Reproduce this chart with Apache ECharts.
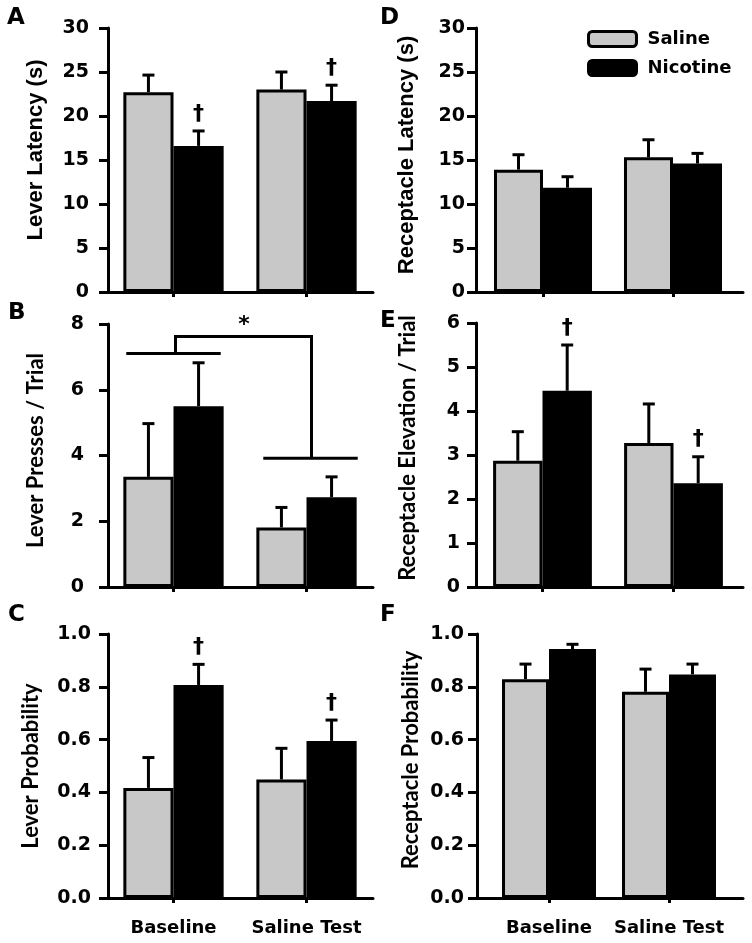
<!DOCTYPE html>
<html>
<head>
<meta charset="utf-8">
<script src="https://cdn.jsdelivr.net/npm/echarts@6/dist/echarts.min.js"></script>
<style>
  html, body { margin: 0; padding: 0; background: #fff; }
  #chart { width: 752px; height: 943px; }
</style>
</head>
<body>
<div id="chart"></div>
<script>
var categories = ['Baseline', 'Saline Test'];
var groupNames = ['Saline', 'Nicotine'];

// A - lever latency (s)
var leverLatencySaline = [22.7, 23.0];
var leverLatencySalineErr = [1.95, 2.0];
var leverLatencyNicotine = [16.6, 21.7];
var leverLatencyNicotineErr = [1.7, 1.8];
var leverLatencyDaggers = [true, true];

// B - lever presses / trial
var leverPressSaline = [3.35, 1.81];
var leverPressSalineErr = [1.62, 0.61];
var leverPressNicotine = [5.5, 2.73];
var leverPressNicotineErr = [1.32, 0.62];
var leverPressDaggers = [false, false];
var leverPressSigLevels = [7.1, 3.92];   // horizontal lines over each condition
var leverPressSigTop = 7.62;             // top of connecting bracket
var leverPressStarLevel = 7.96;

// C - lever probability
var leverProbSaline = [0.417, 0.449];
var leverProbSalineErr = [0.115, 0.118];
var leverProbNicotine = [0.807, 0.595];
var leverProbNicotineErr = [0.078, 0.079];
var leverProbDaggers = [true, true];

// D - receptacle latency (s)
var recLatencySaline = [13.9, 15.3];
var recLatencySalineErr = [1.7, 2.0];
var recLatencyNicotine = [11.85, 14.6];
var recLatencyNicotineErr = [1.25, 1.15];
var recLatencyDaggers = [false, false];

// E - receptacle elevation / trial
var recElevSaline = [2.87, 3.27];
var recElevSalineErr = [0.66, 0.89];
var recElevNicotine = [4.46, 2.36];
var recElevNicotineErr = [1.04, 0.6];
var recElevDaggers = [true, true];

// F - receptacle probability
var recProbSaline = [0.829, 0.781];
var recProbSalineErr = [0.057, 0.086];
var recProbNicotine = [0.943, 0.847];
var recProbNicotineErr = [0.018, 0.039];
var recProbDaggers = [false, false];

var NUM_FONT = 'DejaVu Sans';
var GREY = '#c8c8c8';

var panels = [
  { letter: 'A', title: 'Lever Latency (s)', titleFont: 'Liberation Sans', titleSize: 22, max: 30, interval: 5, dec: 0,
    saline: leverLatencySaline, salineErr: leverLatencySalineErr, nicotine: leverLatencyNicotine, nicotineErr: leverLatencyNicotineErr,
    daggers: leverLatencyDaggers, frame: { left: 108, top: 28, width: 265, height: 264 }, barLeft: 107, barWidth: 266,
    gap: '24.6%', nameGap: 61, nameShift: 20, labelMargin: 19, letterPos: [7, 7], xLabels: false },
  { letter: 'B', title: 'Lever Presses / Trial', titleFont: 'Lato', titleSize: 22, max: 8, interval: 2, dec: 0,
    saline: leverPressSaline, salineErr: leverPressSalineErr, nicotine: leverPressNicotine, nicotineErr: leverPressNicotineErr,
    daggers: leverPressDaggers, frame: { left: 108, top: 324, width: 265, height: 263 }, barLeft: 107, barWidth: 266,
    gap: '24.6%', nameGap: 61, nameShift: 10, labelMargin: 24, letterPos: [8, 302], xLabels: false, bracket: true },
  { letter: 'C', title: 'Lever Probability', titleFont: 'Lato', titleSize: 22, max: 1, interval: 0.2, dec: 1,
    saline: leverProbSaline, salineErr: leverProbSalineErr, nicotine: leverProbNicotine, nicotineErr: leverProbNicotineErr,
    daggers: leverProbDaggers, frame: { left: 108, top: 634, width: 265, height: 264 }, barLeft: 107, barWidth: 266,
    gap: '24.6%', nameGap: 66, nameShift: 0, labelMargin: 17, letterPos: [8, 604], xLabels: true },
  { letter: 'D', title: 'Receptacle Latency (s)', titleFont: 'Liberation Sans', titleSize: 22, max: 30, interval: 5, dec: 0,
    saline: recLatencySaline, salineErr: recLatencySalineErr, nicotine: recLatencyNicotine, nicotineErr: recLatencyNicotineErr,
    daggers: recLatencyDaggers, frame: { left: 476, top: 28, width: 267, height: 264 }, barLeft: 478, barWidth: 260,
    gap: '24.6%', nameGap: 58, nameShift: 10, labelMargin: 11, letterPos: [380, 7], xLabels: false },
  { letter: 'E', title: 'Receptacle Elevation / Trial', titleFont: 'Lato', titleSize: 22, max: 6, interval: 1, dec: 0,
    saline: recElevSaline, salineErr: recElevSalineErr, nicotine: recElevNicotine, nicotineErr: recElevNicotineErr,
    daggers: recElevDaggers, frame: { left: 476, top: 323, width: 267, height: 264 }, barLeft: 477, barWidth: 262,
    gap: '24.6%', nameGap: 57, nameShift: 14, labelMargin: 16, letterPos: [380, 310], xLabels: false },
  { letter: 'F', title: 'Receptacle Probability', titleFont: 'Lato', titleSize: 22, max: 1, interval: 0.2, dec: 1,
    saline: recProbSaline, salineErr: recProbSalineErr, nicotine: recProbNicotine, nicotineErr: recProbNicotineErr,
    daggers: recProbDaggers, frame: { left: 477, top: 634, width: 266, height: 264 }, barLeft: 489, barWidth: 240,
    gap: '21.7%', nameGap: 55, nameShift: 12, labelMargin: 13, letterPos: [380, 604], xLabels: true }
];

var grids = [], xAxes = [], yAxes = [], series = [], titles = [];

// error bar drawn over a bar, side -1 = left bar (saline), +1 = right bar (nicotine)
function errorBarRenderer(side, gapFrac) {
  return function (params, api) {
    var cat = api.value(0);
    var base = api.coord([cat, api.value(1)]);
    var top = api.coord([cat, api.value(1) + api.value(2)]);
    var band = api.size([1, 0])[0];
    var x = base[0] + side * band * (1 - gapFrac) / 4;
    return {
      type: 'group',
      children: [
        { type: 'line', shape: { x1: x, y1: base[1], x2: x, y2: top[1] }, style: { stroke: '#000', lineWidth: 3 } },
        { type: 'line', shape: { x1: x - 6, y1: top[1], x2: x + 6, y2: top[1] }, style: { stroke: '#000', lineWidth: 3 } }
      ]
    };
  };
}

function daggerRenderer(side, gapFrac) {
  return function (params, api) {
    var p = api.coord([api.value(0), api.value(1)]);
    var band = api.size([1, 0])[0];
    var x = p[0] + side * band * (1 - gapFrac) / 4;
    return {
      type: 'text', x: x, y: p[1] - 17,
      style: { text: '\u2020', fontSize: 22, fontWeight: 'bold', fontFamily: NUM_FONT, fill: '#000', align: 'center', verticalAlign: 'middle' }
    };
  };
}

function bracketRenderer(params, api) {
  var band = api.size([1, 0])[0];
  var half = band * 0.355;
  var a = api.coord([0, leverPressSigLevels[0]]);
  var b = api.coord([1, leverPressSigLevels[1]]);
  var topY = api.coord([0, leverPressSigTop])[1];
  var starY = api.coord([0, leverPressStarLevel])[1];
  var ln = { stroke: '#000', lineWidth: 3 };
  return {
    type: 'group',
    children: [
      { type: 'line', shape: { x1: a[0] - half, y1: a[1], x2: a[0] + half, y2: a[1] }, style: ln },
      { type: 'line', shape: { x1: b[0] - half + 4, y1: b[1], x2: b[0] + half + 4, y2: b[1] }, style: ln },
      { type: 'polyline', shape: { points: [[a[0] + 2, a[1]], [a[0] + 2, topY], [b[0] + 5, topY], [b[0] + 5, b[1]]] }, style: { stroke: '#000', lineWidth: 3, fill: null } },
      { type: 'text', x: (a[0] + b[0]) / 2 + 4, y: starY, style: { text: '*', fontSize: 22, fontWeight: 'bold', fontFamily: NUM_FONT, fill: '#000', align: 'center', verticalAlign: 'middle' } }
    ]
  };
}

panels.forEach(function (p, i) {
  var fg = 2 * i, bg = 2 * i + 1;
  var gapFrac = parseFloat(p.gap) / 100;
  grids.push({ left: p.frame.left, top: p.frame.top, width: p.frame.width, height: p.frame.height });
  grids.push({ left: p.barLeft, top: p.frame.top, width: p.barWidth, height: p.frame.height });

  // frame: baseline axis line + value axis
  xAxes.push({ type: 'value', gridIndex: fg, min: 0, max: 1, axisLine: { show: true, lineStyle: { color: '#000', width: 3 } },
    axisTick: { show: false }, axisLabel: { show: false }, splitLine: { show: false } });
  yAxes.push({ type: 'value', gridIndex: fg, min: 0, max: p.max, interval: p.interval,
    name: p.title, nameLocation: 'middle', nameRotate: 90, nameGap: p.nameGap,
    nameTextStyle: { fontFamily: p.titleFont, fontWeight: 'bold', fontSize: p.titleSize, color: '#000', padding: [0, 0, 0, p.nameShift] },
    axisLine: { show: true, lineStyle: { color: '#000', width: 3 } },
    axisTick: { show: true, length: 9, lineStyle: { color: '#000', width: 3 } },
    axisLabel: { margin: p.labelMargin, color: '#000', fontFamily: NUM_FONT, fontWeight: 'bold', fontSize: 19,
      formatter: function (v) { return v.toFixed(p.dec); } },
    splitLine: { show: false } });

  // bars
  xAxes.push({ type: 'category', gridIndex: bg, data: categories,
    axisLine: { show: false },
    axisTick: { show: true, alignWithLabel: true, length: 5, lineStyle: { color: '#000', width: 3 } },
    axisLabel: { show: p.xLabels, interval: 0, margin: 21, color: '#000', fontFamily: NUM_FONT, fontWeight: 'bold', fontSize: 18 } });
  yAxes.push({ type: 'value', gridIndex: bg, min: 0, max: p.max, show: false, splitLine: { show: false } });

  series.push({ name: groupNames[0], type: 'bar', xAxisIndex: bg, yAxisIndex: bg, data: p.saline,
    barGap: '0%', barCategoryGap: p.gap, itemStyle: { color: GREY, borderColor: '#000', borderWidth: 3 } });
  series.push({ name: groupNames[1], type: 'bar', xAxisIndex: bg, yAxisIndex: bg, data: p.nicotine,
    barGap: '0%', barCategoryGap: p.gap, itemStyle: { color: '#000', borderColor: '#000', borderWidth: 3 } });

  series.push({ type: 'custom', xAxisIndex: bg, yAxisIndex: bg, z: 3, silent: true,
    data: p.saline.map(function (v, k) { return [k, v, p.salineErr[k]]; }),
    renderItem: errorBarRenderer(-1, gapFrac) });
  series.push({ type: 'custom', xAxisIndex: bg, yAxisIndex: bg, z: 3, silent: true,
    data: p.nicotine.map(function (v, k) { return [k, v, p.nicotineErr[k]]; }),
    renderItem: errorBarRenderer(1, gapFrac) });

  var dag = [];
  p.daggers.forEach(function (on, k) { if (on) dag.push([k, p.nicotine[k] + p.nicotineErr[k]]); });
  if (dag.length) {
    series.push({ type: 'custom', xAxisIndex: bg, yAxisIndex: bg, z: 3, silent: true, data: dag,
      renderItem: daggerRenderer(1, gapFrac) });
  }
  if (p.bracket) {
    series.push({ type: 'custom', xAxisIndex: bg, yAxisIndex: bg, z: 3, silent: true,
      data: [[0, leverPressSigTop]], renderItem: bracketRenderer });
  }

  titles.push({ text: p.letter, left: p.letterPos[0], top: p.letterPos[1], padding: 0,
    textStyle: { fontFamily: NUM_FONT, fontWeight: 'bold', fontSize: 23, color: '#000' } });
});

var chart = echarts.init(document.getElementById('chart'));
chart.setOption({
  animation: false,
  backgroundColor: '#fff',
  title: titles,
  legend: {
    data: groupNames, orient: 'vertical', left: 582, top: 25,
    itemWidth: 48, itemHeight: 15, itemGap: 11, icon: 'roundRect',
    itemStyle: { borderColor: '#000', borderWidth: 3 },
    textStyle: { fontFamily: NUM_FONT, fontWeight: 'bold', fontSize: 18, color: '#000', padding: [0, 0, 0, 6] }
  },
  grid: grids,
  xAxis: xAxes,
  yAxis: yAxes,
  series: series
});
</script>
</body>
</html>
